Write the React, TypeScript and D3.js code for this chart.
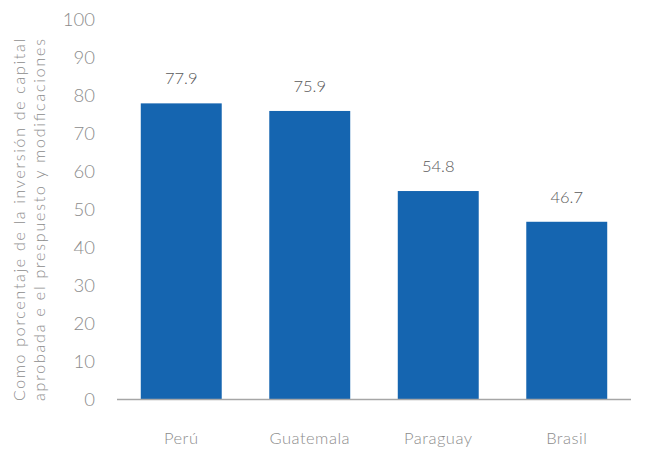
import React from "react";
import * as d3 from "d3";

const categories = ["Perú", "Guatemala", "Paraguay", "Brasil"];
const values = [77.9, 75.9, 54.8, 46.7];
const yTicks = [0, 10, 20, 30, 40, 50, 60, 70, 80, 90, 100];
const titleLines = [
  "Como porcentaje de la inversión de capital",
  "aprobada e el prespuesto y modificaciones",
];

export default function App() {
  const W = 653, H = 450;
  const x = d3.scaleBand<string>().domain(categories).range([117, 631]).paddingInner(0.37).paddingOuter(0.185);
  const y = d3.scaleLinear().domain([0, 100]).range([399, 19.5]);
  const font = "Lato, 'Open Sans', sans-serif";
  return (
    <svg width={W} height={H} style={{ position: "absolute", left: 0, top: 0, background: "#fff" }}>
      {categories.map((c, i) => (
        <g key={c}>
          <rect x={x(c)} y={y(values[i])} width={x.bandwidth()} height={y(0) - y(values[i])} fill="#1565B0" />
          <text x={x(c)! + x.bandwidth() / 2} y={y(values[i]) - 19} textAnchor="middle" fontSize={16.5} fill="#595959" fontFamily={font} fontWeight={300}>
            {values[i].toFixed(1)}
          </text>
          <text x={x(c)! + x.bandwidth() / 2} y={444} textAnchor="middle" fontSize={16.5} fill="#8c8c8c" fontFamily={font} fontWeight={300} letterSpacing={0.5}>
            {c}
          </text>
        </g>
      ))}
      <line x1={117} x2={631} y1={y(0) + 0.5} y2={y(0) + 0.5} stroke="#a6a6a6" strokeWidth={1.3} />
      {yTicks.map((t) => (
        <text key={t} x={95} y={y(t) + 6.5} textAnchor="end" fontSize={18.5} fill="#8c8c8c" fontFamily={font} fontWeight={300}>
          {t}
        </text>
      ))}
      {titleLines.map((l, i) => (
        <text key={i} transform={`translate(${25 + i * 20},${220}) rotate(-90)`} textAnchor="middle" fontSize={16} fill="#8c8c8c" fontFamily={font} fontWeight={300} textLength={362} lengthAdjust="spacing">
          {l}
        </text>
      ))}
    </svg>
  );
}
